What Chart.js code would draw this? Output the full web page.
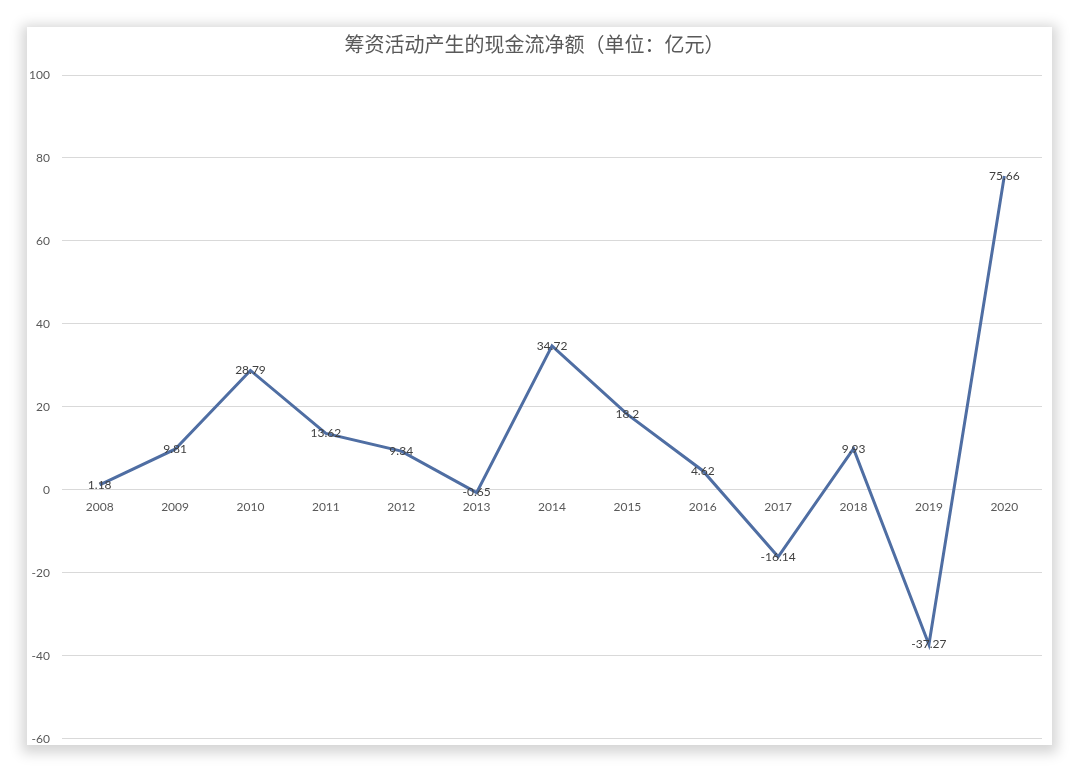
<!DOCTYPE html>
<html>
<head>
<meta charset="utf-8">
<script src="https://cdn.jsdelivr.net/npm/chart.js@4.4.0/dist/chart.umd.min.js"></script>
<style>
  html, body { margin: 0; padding: 0; background: #ffffff; width: 1080px; height: 773px; overflow: hidden; }
  #card { position: absolute; left: 27px; top: 27px; width: 1025px; height: 718px; background: #ffffff;
          box-shadow: 0 3px 12px 5px rgba(0,0,0,0.17); }
  #c { display: block; }
</style>
</head>
<body>
<div id="card"><canvas id="c" width="1025" height="731"></canvas></div>
<script>
const titleText = '筹资活动产生的现金流净额（单位：亿元）';
const years = ['2008','2009','2010','2011','2012','2013','2014','2015','2016','2017','2018','2019','2020'];
const netCash = [1.18, 9.81, 28.79, 13.62, 9.34, -0.65, 34.72, 18.2, 4.62, -16.14, 9.93, -37.27, 75.66];
const yMin = -60, yMax = 100, yStep = 20;

const labelPlugin = {
  id: 'pointLabels',
  afterDatasetsDraw(chart) {
    const ctx = chart.ctx;
    const meta = chart.getDatasetMeta(0);
    ctx.save();
    ctx.font = '12px Lato, "Liberation Sans", sans-serif';
    ctx.fillStyle = '#404040';
    ctx.textAlign = 'center';
    ctx.textBaseline = 'middle';
    meta.data.forEach((pt, i) => {
      ctx.fillText(String(netCash[i]), pt.x, pt.y);
    });
    ctx.restore();
  }
};

new Chart(document.getElementById('c'), {
  type: 'line',
  data: {
    labels: years,
    datasets: [{
      data: netCash,
      borderColor: '#4f6ea3',
      borderWidth: 3,
      pointRadius: 0,
      tension: 0,
      fill: false
    }]
  },
  options: {
    responsive: false,
    animation: false,
    layout: { padding: { left: 0, right: 10, top: 0, bottom: 0 } },
    plugins: {
      legend: { display: false },
      tooltip: { enabled: false },
      title: {
        display: true,
        text: titleText,
        color: '#595959',
        font: { family: '"Noto Sans CJK SC", sans-serif', size: 20, weight: 'normal' },
        padding: { top: 5, bottom: 19 }
      }
    },
    scales: {
      x: {
        position: { y: 0 },
        offset: true,
        grid: { display: false, drawTicks: false },
        border: { display: false },
        ticks: { color: '#595959', font: { family: 'Lato, "Liberation Sans", sans-serif', size: 12 }, padding: 10, maxRotation: 0 }
      },
      y: {
        min: yMin,
        max: yMax,
        grid: { color: '#d9d9d9', lineWidth: 1, drawTicks: false },
        border: { display: false },
        ticks: { stepSize: yStep, color: '#595959', font: { family: 'Lato, "Liberation Sans", sans-serif', size: 12 }, padding: 12 },
        afterFit(scale) { scale.width = 35; }
      }
    }
  },
  plugins: [labelPlugin]
});
</script>
</body>
</html>
